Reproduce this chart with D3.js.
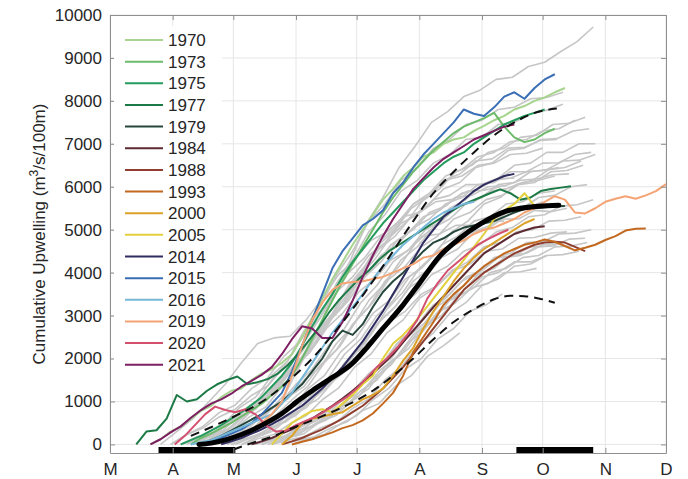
<!DOCTYPE html>
<html>
<head>
<meta charset="utf-8">
<script src="https://cdn.jsdelivr.net/npm/d3@7"></script>
<style>
  body { margin: 0; background: #fff; }
  text { font-family: "Liberation Sans", Arial, Helvetica, sans-serif; }
</style>
</head>
<body>
<svg id="chart" width="688" height="479"></svg>
<script>
// ---- data -------------------------------------------------------------
// Month starts as day of year, with one-letter labels
const monthTickDays = [60, 91, 121, 152, 182, 213, 244, 274, 305, 335];
const monthTickLabels = ["M", "A", "M", "J", "J", "A", "S", "O", "N", "D"];
const yTickValues = [0, 1000, 2000, 3000, 4000, 5000, 6000, 7000, 8000, 9000, 10000];

// Highlighted years: first day of year, then cumulative upwelling every 5 days
const highlightYears = ["1970", "1973", "1975", "1977", "1979", "1984", "1988", "1993",
                        "2000", "2005", "2014", "2015", "2016", "2019", "2020", "2021"];
const highlightStep = 5;
const highlightStart = [80, 100, 95, 73, 105, 130, 145, 150, 145, 140, 115, 105, 100, 110, 92, 80];
const highlightValues = [
  [0,120,300,420,600,780,900,1100,1250,1300,1500,1650,1750,1900,2100,2500,2950,3400,3850,4250,4650,5000,5350,5700,5950,6250,6450,6700,6800,7000,7100,7150,7300,7420,7550,7650,7800,7880,8000,8080,8200,8300],
  [0,150,250,380,500,650,800,950,1150,1350,1600,2000,2450,2900,3350,3800,4200,4600,5000,5400,5750,6050,6350,6600,6850,7050,7250,7400,7500,7600,7720,7400,7150,7040,7100,7250,7350],
  [0,100,200,320,450,600,750,920,1100,1350,1600,1900,2300,2750,3150,3500,3900,4250,4550,4850,5150,5400,5650,5900,6150,6350,6550,6700,6800,7000,7150,7300,7450,7550,7650,7720,7800],
  [0,300,330,600,1150,1000,1050,1250,1400,1500,1580,1400,1450,1520,1650,1850,2100,2400,2700,3050,3350,3600,3850,4050,4300,4500,4650,4800,4950,5100,5250,5400,5550,5650,5750,5850,5940,5850,5700,5750,5900,5950,5980,6010],
  [0,100,200,320,450,580,700,850,1000,1200,1400,1700,2000,2400,2650,2550,2800,3200,3550,3800,4000,4250,4500,4700,4800,4950,5050,5100,5150,5200,5300,5400,5480,5500,5520,5540,5550],
  [0,70,150,250,350,480,600,750,900,1070,1250,1450,1650,1870,2100,2380,2650,2920,3200,3450,3700,3950,4200,4450,4600,4750,4900,4980,5050,5080],
  [0,70,150,250,350,470,600,750,900,1100,1300,1550,1800,2100,2400,2700,3000,3300,3600,3800,4000,4150,4300,4450,4550,4650,4700,4720,4700,4600,4500],
  [0,60,120,200,280,380,450,560,720,950,1200,1600,2150,2500,2850,3250,3500,3700,3950,4150,4300,4450,4550,4650,4700,4770,4720,4620,4520,4580,4650,4760,4850,4980,5020,5030],
  [0,200,500,600,650,700,750,900,1050,1150,1300,1600,1950,2250,2700,3100,3450,3800,4100,4350,4550,4700,4850,5000,5150,5250],
  [0,250,500,650,780,820,750,950,1150,1400,1600,2000,2350,2550,2800,3100,3400,3700,4000,4300,4600,4900,5250,5450,5600,5850,5550],
  [0,70,150,250,350,470,600,750,900,1100,1300,1550,1800,2100,2400,2750,3100,3500,3900,4300,4700,5000,5300,5500,5700,5900,6050,6150,6250,6300],
  [0,60,150,250,350,500,700,950,1200,1700,2300,2900,3500,4100,4500,4800,5100,5250,5450,5850,6100,6450,6750,7000,7250,7500,7800,7700,7650,7850,8100,8200,8050,8300,8500,8620],
  [0,50,100,200,300,400,500,600,700,950,1200,1550,1900,2250,2600,2900,3200,3500,3850,4150,4400,4650,4850,5050,5250,5400,5500,5600,5650],
  [0,70,150,250,350,500,700,1000,1600,2300,2900,3300,3600,3750,3780,3800,3850,3900,4000,4100,4200,4350,4400,4550,4650,4750,4900,5000,5050,5150,5250,5400,5500,5650,5780,5700,5400,5380,5500,5650,5720,5780,5720,5800,5900,6060],
  [0,200,450,700,880,800,750,820,700,450,300,320,450,550,650,800,950,1100,1300,1550,1800,2000,2250,2550,2900,3400,3750,4050,4250,4450,4650,4780,4900,5000],
  [0,120,280,420,620,800,950,1050,1180,1350,1480,1620,1800,2100,2450,2750,2700,2480,2480,2850,3350,3900,4400,4850,5250,5600,5950,6200,6450,6650,6800,6950,7100,7200,7300,7400,7450]
];

// All other years: first day of year, then cumulative upwelling every 8 days
const otherStep = 8;
const otherStart = [115, 100, 95, 105, 90, 110, 100, 120, 115, 125, 130, 135, 140, 135, 150, 145, 95, 105,
                    100, 120, 110, 128, 90, 85, 118, 100, 108, 125, 140, 95, 112, 132, 98, 122, 138, 106];
const otherValues = [
  [0,180,380,780,1200,1950,2650,3600,4300,5150,5750,6450,6950,7500,7750,8100,8250,8500,8550,8800,8900,9150,9380,9720],
  [0,150,280,580,820,1280,1720,2380,2950,3750,4300,4950,5350,5900,6150,6550,6750,7100,7150,7450,7500,7700,7780,7920],
  [0,120,230,480,680,1030,1320,1790,2160,2790,3260,3890,4310,4850,5200,5700,5950,6350,6500,6800,6900,7150,7200,7450,7480,7620],
  [0,180,330,640,870,1340,1760,2440,2960,3600,4000,4550,4850,5300,5550,5950,6100,6450,6550,6850,6900,7100,7120,7300,7350],
  [0,230,380,640,820,1140,1360,1800,2100,2650,3000,3550,3900,4400,4650,5050,5250,5600,5750,6050,6100,6350,6350,6550,6560,6750,6800],
  [0,130,230,480,680,1040,1360,1900,2300,2900,3300,3850,4150,4600,4850,5250,5400,5700,5800,6050,6100,6350,6380,6500],
  [0,100,180,380,530,840,1060,1500,1800,2350,2750,3350,3750,4300,4600,5050,5250,5600,5750,6050,6100,6350,6400,6600,6620,6750],
  [0,130,230,480,680,1040,1360,1900,2250,2800,3150,3650,3900,4350,4550,4950,5100,5400,5500,5750,5800,6000,6050],
  [0,110,180,380,530,840,1060,1500,1800,2350,2700,3200,3500,3950,4150,4500,4650,4950,5050,5300,5350,5550,5580,5700],
  [0,130,230,480,670,1040,1310,1800,2100,2600,2900,3400,3650,4050,4250,4600,4700,4950,5000,5200,5220,5300],
  [0,100,180,410,570,890,1110,1550,1850,2350,2650,3150,3400,3800,4000,4350,4450,4700,4720,4900,4920,5000],
  [0,130,230,480,670,1040,1310,1750,2000,2500,2800,3250,3500,3900,4050,4350,4400,4600,4620,4780,4800],
  [0,100,180,380,520,840,1060,1500,1800,2300,2600,3050,3300,3700,3850,4150,4200,4400,4420,4500],
  [0,130,200,410,570,890,1110,1550,1850,2350,2650,3100,3300,3650,3750,4000,4020,4100],
  [0,130,230,480,670,1040,1310,1750,2000,2450,2700,3100,3250,3500],
  [0,100,180,380,520,790,950,1350,1600,2050,2300,2600],
  [0,180,280,540,720,1100,1350,1850,2200,2800,3200,3800,4150,4650,4900,5300,5450,5750,5800,6000,6020,6150,6180,6280,6300],
  [0,230,420,790,1070,1550,1900,2500,2950,3600,4050,4650,5000,5500,5750,6150,6300,6600,6650,6900,6920,7080,7100],
  [0,180,330,690,970,1500,1950,2650,3200,3950,4500,5200,5600,6150,6450,6900,7100,7450,7550,7800,7850,8050,8080,8200],
  [0,150,280,590,820,1250,1550,2100,2450,3000,3350,3900,4200,4650,4850,5200,5300,5600,5650,5850,5900],
  [0,130,200,420,550,860,1060,1450,1700,2150,2400,2850,3100,3500,3700,4050,4200,4500,4550,4800,4820,4920,4950],
  [0,90,130,320,420,690,860,1250,1500,1950,2250,2750,3000,3450,3650,4000,4100,4350,4400,4600,4620,4700],
  [0,230,420,740,920,1300,1550,2050,2400,3000,3400,4000,4350,4850,5150,5600,5800,6150,6250,6500,6550,6750,6780,6900],
  [0,300,600,1000,1400,1900,2350,2480,2520,2900,3400,3950,4300,4750,4950,5300,5400,5650,5700,5900,5920,6000],
  [0,180,320,650,850,1300,1600,2150,2500,3050,3350,3850,4100,4500,4650,4950,5000,5250,5250,5450,5420,5500],
  [0,280,470,850,1100,1600,1950,2550,2950,3550,3900,4400,4700,5150,5350,5700,5800,6050,6050,6200,6200],
  [0,180,270,550,700,1100,1350,1850,2200,2800,3200,3800,4200,4750,5050,5500,5700,6050,6200,6500,6550,6800,6800,7000,7000],
  [0,180,320,650,850,1300,1600,2150,2550,3150,3550,4100,4450,4950,5200,5600,5750,6050,6150,6400,6450,6600],
  [0,150,250,530,680,1050,1300,1800,2100,2600,2900,3350,3550,3900,4000,4250,4250,4400],
  [0,150,250,530,680,1050,1300,1800,2150,2700,3050,3550,3850,4300,4500,4850,4900,5100,5100,5200,5200],
  [0,200,350,700,950,1400,1750,2300,2700,3300,3700,4250,4550,5000,5200,5550,5650,5900,5950,6100,6150,6250],
  [0,120,220,450,620,950,1200,1650,1950,2450,2750,3250,3500,3900,4050,4350,4400,4600,4620,4700],
  [0,200,330,650,850,1250,1500,2000,2350,2950,3350,3900,4250,4750,5000,5400,5550,5850,5950,6150,6200,6350,6380,6450],
  [0,160,300,600,800,1200,1500,2000,2350,2900,3250,3800,4100,4550,4750,5100,5200,5450,5500,5650],
  [0,140,250,500,680,1050,1300,1750,2050,2550,2850,3300,3550,3950,4100,4400,4450,4650,4700],
  [0,220,400,780,1050,1550,1950,2600,3050,3700,4150,4750,5100,5600,5850,6250,6400,6700,6800,7050,7100,7300,7350,7550]
];

// Climatological mean and the mean +/- one standard deviation
const meanDays   = [104, 110, 118, 125, 134, 145, 154, 160, 170, 179, 187, 195, 205, 213, 223, 233, 243, 256, 272, 282];
const meanValues = [0, 30, 117, 230, 420, 720, 1050, 1250, 1560, 1850, 2250, 2700, 3250, 3750, 4380, 4800, 5128, 5431, 5548, 5571];
const upperDays   = [100, 110, 120, 130, 140, 150, 160, 170, 180, 190, 200, 210, 220, 230, 240, 250, 260, 270, 281];
const upperValues = [200, 400, 620, 850, 1150, 1550, 2000, 2550, 3150, 3800, 4500, 5200, 5850, 6350, 6800, 7200, 7500, 7720, 7820];
const lowerDays   = [121, 130, 140, 150, 160, 170, 180, 190, 200, 210, 220, 230, 240, 250, 258, 265, 272, 280];
const lowerValues = [-120, 30, 180, 380, 560, 760, 980, 1250, 1600, 2000, 2450, 2850, 3150, 3380, 3460, 3450, 3400, 3300];

// Spring and fall transition windows (day of year)
const transitionStart = [84, 261];
const transitionEnd   = [122, 299];

// ---- styling ----------------------------------------------------------
const highlightColors = ["#a7d48e", "#6dbb6a", "#249b5c", "#1c7a46", "#27473b", "#5e2a33",
                         "#8f3e30", "#c2691f", "#dba128", "#e2d03c", "#2f2d60", "#3a6eb5",
                         "#74b7d9", "#f4a474", "#d3506f", "#7d1f62"];
const greyColor = "#c6c6c6";
const gridColor = "#e6e6e6";
const axisColor = "#8f8f8f";
const textColor = "#262626";

// ---- layout -----------------------------------------------------------
const plot = { left: 110, right: 666, top: 15, bottom: 453 };
const svg = d3.select("#chart");

const x = d3.scaleLinear().domain([60, 335]).range([plot.left, plot.right]);
const y = d3.scaleLinear().domain([-200, 10000]).range([plot.bottom, plot.top]);

// grid
const grid = svg.append("g");
grid.selectAll("line.gx").data(monthTickDays).join("line")
  .attr("x1", d => x(d)).attr("x2", d => x(d))
  .attr("y1", plot.top).attr("y2", plot.bottom)
  .attr("stroke", gridColor).attr("stroke-width", 1);
grid.selectAll("line.gy").data(yTickValues).join("line")
  .attr("x1", plot.left).attr("x2", plot.right)
  .attr("y1", d => y(d)).attr("y2", d => y(d))
  .attr("stroke", gridColor).attr("stroke-width", 1);

// clip lines to the axes box
svg.append("clipPath").attr("id", "plotClip")
  .append("rect").attr("x", plot.left).attr("y", plot.top)
  .attr("width", plot.right - plot.left).attr("height", plot.bottom - plot.top);

const lines = svg.append("g").attr("clip-path", "url(#plotClip)");
const lineGen = d3.line().x(d => x(d[0])).y(d => y(d[1]));
const smoothGen = d3.line().x(d => x(d[0])).y(d => y(d[1])).curve(d3.curveMonotoneX);

const toPoints = (start, step, vals) => vals.map((v, i) => [start + i * step, v]);

// grey years
lines.append("g").selectAll("path")
  .data(otherValues.map((v, i) => toPoints(otherStart[i], otherStep, v)))
  .join("path")
  .attr("d", lineGen)
  .attr("fill", "none")
  .attr("stroke", greyColor)
  .attr("stroke-width", 1.6)
  .attr("stroke-linejoin", "round");

// highlighted years
lines.append("g").selectAll("path")
  .data(highlightValues.map((v, i) => toPoints(highlightStart[i], highlightStep, v)))
  .join("path")
  .attr("d", lineGen)
  .attr("fill", "none")
  .attr("stroke", (d, i) => highlightColors[i])
  .attr("stroke-width", 2)
  .attr("stroke-linejoin", "round");

// +/- one standard deviation (dashed)
[[upperDays, upperValues], [lowerDays, lowerValues]].forEach(([days, vals]) => {
  lines.append("path")
    .datum(days.map((d, i) => [d, vals[i]]))
    .attr("d", smoothGen)
    .attr("fill", "none")
    .attr("stroke", "#111")
    .attr("stroke-width", 2)
    .attr("stroke-dasharray", "9,6");
});

// climatological mean
lines.append("path")
  .datum(meanDays.map((d, i) => [d, meanValues[i]]))
  .attr("d", smoothGen)
  .attr("fill", "none")
  .attr("stroke", "#000")
  .attr("stroke-width", 5)
  .attr("stroke-linecap", "round");

// transition windows along the bottom
svg.append("g").selectAll("rect")
  .data(transitionStart.map((s, i) => [s, transitionEnd[i]]))
  .join("rect")
  .attr("x", d => x(d[0]))
  .attr("width", d => x(d[1]) - x(d[0]))
  .attr("y", plot.bottom - 6)
  .attr("height", 6)
  .attr("fill", "#000");

// axes (ticks point inward)
const styleAxis = g => {
  g.select(".domain").attr("stroke", axisColor);
  g.selectAll(".tick line").attr("stroke", axisColor);
  g.selectAll(".tick text").attr("fill", textColor).attr("font-size", 17)
    .attr("font-family", '"Liberation Sans", Arial, sans-serif');
};

svg.append("g").attr("transform", `translate(0,${plot.bottom})`)
  .call(d3.axisBottom(x).tickValues(monthTickDays)
    .tickFormat((d, i) => monthTickLabels[i]).tickSize(-5).tickSizeOuter(0).tickPadding(10))
  .call(styleAxis);
svg.append("g").attr("transform", `translate(0,${plot.top})`)
  .call(d3.axisTop(x).tickValues(monthTickDays).tickFormat("").tickSize(-5).tickSizeOuter(0))
  .call(styleAxis);
svg.append("g").attr("transform", `translate(${plot.left},0)`)
  .call(d3.axisLeft(y).tickValues(yTickValues).tickFormat(d3.format("d"))
    .tickSize(-5).tickSizeOuter(0).tickPadding(8))
  .call(styleAxis);
svg.append("g").attr("transform", `translate(${plot.right},0)`)
  .call(d3.axisRight(y).tickValues(yTickValues).tickFormat("").tickSize(-5).tickSizeOuter(0))
  .call(styleAxis);

// y-axis title
const yTitle = svg.append("text")
  .attr("transform", `translate(45,${(plot.top + plot.bottom) / 2}) rotate(-90)`)
  .attr("text-anchor", "middle")
  .attr("font-size", 17)
  .attr("fill", textColor);
yTitle.append("tspan").text("Cumulative Upwelling (m");
yTitle.append("tspan").text("3").attr("font-size", 12).attr("dy", -7);
yTitle.append("tspan").text("/s/100m)").attr("dy", 7);

// legend
const legend = svg.append("g");
legend.append("rect")
  .attr("x", 114).attr("y", 26).attr("width", 108).attr("height", 350)
  .attr("fill", "#fff");
const rowH = 21.65;
const rows = legend.selectAll("g.row").data(highlightYears).join("g")
  .attr("transform", (d, i) => `translate(0,${40 + i * rowH})`);
rows.append("line")
  .attr("x1", 125).attr("x2", 163).attr("y1", 0).attr("y2", 0)
  .attr("stroke", (d, i) => highlightColors[i]).attr("stroke-width", 2);
rows.append("text")
  .attr("x", 168).attr("y", 6)
  .attr("font-size", 17).attr("fill", textColor)
  .text(d => d);
</script>
</body>
</html>
